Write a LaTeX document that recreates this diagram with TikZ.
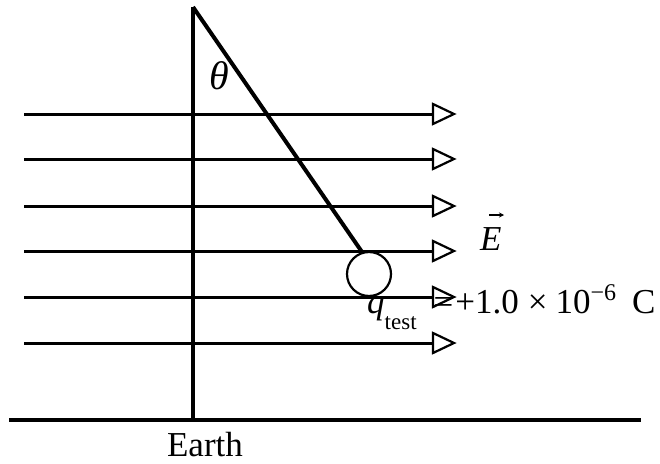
\documentclass[tikz,border=0pt]{standalone}
\usepackage{fontspec}
\setmainfont{Liberation Serif}
\usetikzlibrary{arrows.meta}
\begin{document}
\begin{tikzpicture}[x=1pt,y=-1pt,
  fline/.style={line width=3pt},
  ahead/.style={line width=2.2pt, line join=miter},
  lbl/.style={inner sep=0pt, font=\fontsize{35}{40}\selectfont},
  heavy/.style={line width=3.2pt}]
\useasboundingbox (0,0) rectangle (660,463);
% ground and pole
\coordinate (gl) at (9,420);
\coordinate (gr) at (641,420);
\coordinate (top) at (193,7);
\coordinate (foot) at (193,420);
\draw[heavy] (gl) -- (gr);
\draw[heavy] (top) -- (foot);
% field lines
\foreach \y [count=\i] in {114,159,206,251,297,343} {
  \coordinate (s\i) at (24,\y);
  \coordinate (b\i) at (433,\y);
  \draw[fline] (s\i) -- (b\i);
  \draw[ahead] (433,\y-10) -- (454,\y) -- (433,\y+10) -- cycle;
}
% pendulum
\node[circle, draw, line width=2.2pt, minimum size=44pt, inner sep=0pt] (ball) at (369,274) {};
\coordinate (hook) at (362,252);
\draw[line width=4pt] (top) -- (hook);
% labels
\node[lbl, font=\fontsize{40}{44}\selectfont] (theta) at (219,76) {\textit{θ}};
\node[lbl, anchor=base west] (E) at (480,250) {\textit{E}};
\coordinate (va) at (489,215);
\coordinate (vb) at (504,215);
\draw[line width=1.3pt, -{Stealth[length=5pt,width=5pt]}] (va) -- (vb);
\node[lbl, anchor=base west] (q) at (367,313) {\textit{q}\raisebox{-16pt}{\fontsize{23}{23}\selectfont test}\hspace{17pt}=\hspace{2pt}+1.0\hspace{9pt}×\hspace{8pt}10\raisebox{13pt}{\fontsize{24}{24}\selectfont −6}\hspace{16pt}C};
\node[lbl, anchor=base] (earth) at (205,456) {Earth};
\end{tikzpicture}
\end{document}
